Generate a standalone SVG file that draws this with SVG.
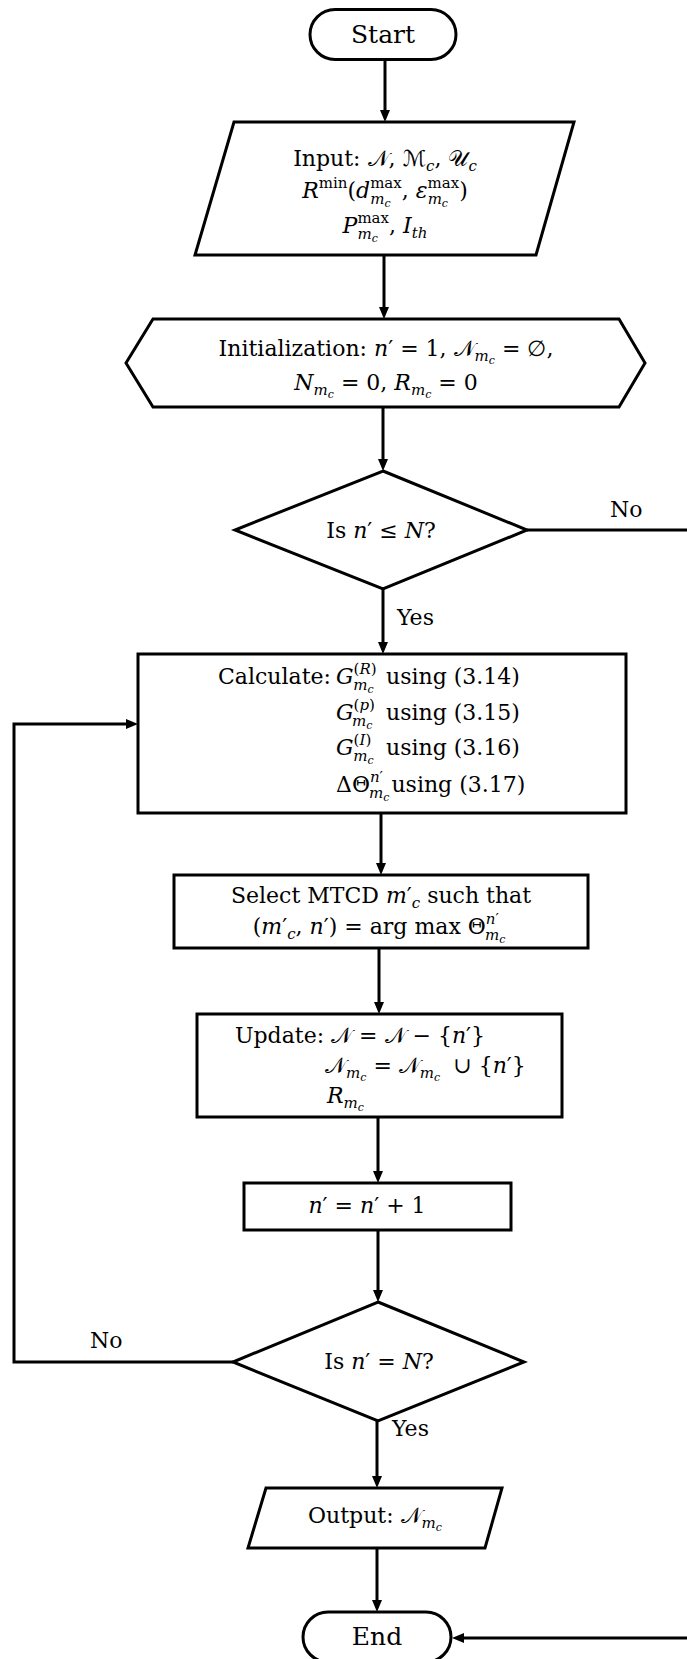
<svg xmlns="http://www.w3.org/2000/svg" width="687" height="1659" viewBox="0 0 687 1659">
<style>
.t{font-family:"DejaVu Serif","Liberation Serif",serif;font-size:22px;fill:#000}
.big{font-size:25px}
.i{font-style:italic}
.sp{font-size:15px}
.ss{font-size:11px}
.sc{font-family:"DejaVu Sans","DejaVu Serif","Noto Sans",serif;font-style:normal}
.shape{fill:#fff;stroke:#000;stroke-width:3;stroke-linejoin:miter}
.conn{fill:none;stroke:#000;stroke-width:3}
</style>
<defs>
<marker id="ah" markerWidth="12" markerHeight="10" refX="4" refY="5" orient="auto" markerUnits="userSpaceOnUse"><path d="M0,0 L12,5 L0,10 z" fill="#000"/></marker>
</defs>
<rect width="687" height="1659" fill="#fff"/>
<g id="connectors">
<path class="conn" d="M385,60 V114" marker-end="url(#ah)"/>
<path class="conn" d="M384,255 V311" marker-end="url(#ah)"/>
<path class="conn" d="M383,407 V463" marker-end="url(#ah)"/>
<path class="conn" d="M527,530 H692 V1638 H460" marker-end="url(#ah)"/>
<path class="conn" d="M383,589 V646" marker-end="url(#ah)"/>
<path class="conn" d="M381,813 V867" marker-end="url(#ah)"/>
<path class="conn" d="M379,948 V1006" marker-end="url(#ah)"/>
<path class="conn" d="M378,1117 V1175" marker-end="url(#ah)"/>
<path class="conn" d="M378,1230 V1294" marker-end="url(#ah)"/>
<path class="conn" d="M233,1362 H14 V724 H130" marker-end="url(#ah)"/>
<path class="conn" d="M377,1421 V1480" marker-end="url(#ah)"/>
<path class="conn" d="M377,1548 V1604" marker-end="url(#ah)"/>
</g>
<g id="start">
<rect class="shape" x="310" y="9.5" width="146" height="50" rx="25" ry="25"/>
<text class="t big" x="383" y="43" text-anchor="middle">Start</text>
</g>
<g id="input">
<polygon class="shape" points="234,122 574,122 536,255 195,255"/>
<text class="t" x="385" y="166" text-anchor="middle">Input: <tspan class="sc">𝒩</tspan>, <tspan class="sc">ℳ</tspan><tspan class="sp i" dy="5">c</tspan><tspan dy="-5">, </tspan><tspan class="sc">𝒰</tspan><tspan class="sp i" dy="5">c</tspan></text>
<text class="t" x="385" y="198" text-anchor="middle"><tspan class="i">R</tspan><tspan class="sp" dy="-10">min</tspan><tspan dy="10">(</tspan><tspan class="i">d</tspan><tspan class="sp" dy="-10">max</tspan><tspan class="sp i" dx="-31.6" dy="16">m</tspan><tspan class="ss i" dy="3">c</tspan><tspan dx="11.2" dy="-9">, </tspan><tspan class="i">ε</tspan><tspan class="sp" dy="-10">max</tspan><tspan class="sp i" dx="-31.6" dy="16">m</tspan><tspan class="ss i" dy="3">c</tspan><tspan dx="11.2" dy="-9">)</tspan></text>
<text class="t" x="385" y="233" text-anchor="middle"><tspan class="i">P</tspan><tspan class="sp" dy="-10">max</tspan><tspan class="sp i" dx="-31.6" dy="16">m</tspan><tspan class="ss i" dy="3">c</tspan><tspan dx="11.2" dy="-9">, </tspan><tspan class="i">I</tspan><tspan class="sp i" dy="5">th</tspan></text>
</g>
<g id="init">
<polygon class="shape" points="126,363 153,319 619,319 645,363 619,407 153,407"/>
<text class="t" x="386" y="356" text-anchor="middle">Initialization: <tspan class="i">n</tspan>′ = 1, <tspan class="sc">𝒩</tspan><tspan class="sp i" dy="5">m</tspan><tspan class="ss i" dy="3">c</tspan><tspan dy="-8"> =  ∅,</tspan></text>
<text class="t" x="386" y="390" text-anchor="middle"><tspan class="i">N</tspan><tspan class="sp i" dy="5">m</tspan><tspan class="ss i" dy="3">c</tspan><tspan dy="-8"> = 0, </tspan><tspan class="i">R</tspan><tspan class="sp i" dy="5">m</tspan><tspan class="ss i" dy="3">c</tspan><tspan dy="-8"> = 0</tspan></text>
</g>
<g id="decision1">
<polygon class="shape" points="383,471 527,530 383,589 235,530"/>
<text class="t" x="381" y="538" text-anchor="middle">Is <tspan class="i">n</tspan>′ ≤ <tspan class="i">N</tspan>?</text>
<text class="t" x="610" y="517">No</text>
<text class="t" x="397" y="625">Yes</text>
</g>
<g id="calculate">
<rect class="shape" x="138" y="654" width="488" height="159"/>
<text class="t" x="218" y="684">Calculate: <tspan x="336" class="i">G</tspan><tspan class="sp" dy="-10">(</tspan><tspan class="sp i">R</tspan><tspan class="sp">)</tspan><tspan class="sp i" dx="-23.3" dy="16">m</tspan><tspan class="ss i" dy="3">c</tspan><tspan x="386" dy="-9">using (3.14)</tspan></text>
<text class="t" x="336" y="720"><tspan class="i">G</tspan><tspan class="sp" dy="-10">(</tspan><tspan class="sp i">p</tspan><tspan class="sp">)</tspan><tspan class="sp i" dx="-23" dy="16">m</tspan><tspan class="ss i" dy="3">c</tspan><tspan x="386" dy="-9">using (3.15)</tspan></text>
<text class="t" x="336" y="755"><tspan class="i">G</tspan><tspan class="sp" dy="-10">(</tspan><tspan class="sp i">I</tspan><tspan class="sp">)</tspan><tspan class="sp i" dx="-18" dy="16">m</tspan><tspan class="ss i" dy="3">c</tspan><tspan x="386" dy="-9">using (3.16)</tspan></text>
<text class="t" x="336" y="792">ΔΘ<tspan class="sp i" dy="-10">n</tspan><tspan class="sp">′</tspan><tspan class="sp i" dx="-14" dy="16">m</tspan><tspan class="ss i" dy="3">c</tspan><tspan dx="2" dy="-9">using (3.17)</tspan></text>
</g>
<g id="select">
<rect class="shape" x="174" y="875" width="414" height="73"/>
<text class="t" x="381" y="903" text-anchor="middle">Select MTCD <tspan class="i">m</tspan>′<tspan class="sp i" dy="5">c</tspan><tspan dy="-5"> such that</tspan></text>
<text class="t" x="379" y="934" text-anchor="middle">(<tspan class="i">m</tspan>′<tspan class="sp i" dy="5">c</tspan><tspan dy="-5">, </tspan><tspan class="i">n</tspan>′) = arg max Θ<tspan class="sp i" dy="-10">n</tspan><tspan class="sp">′</tspan><tspan class="sp i" dx="-14" dy="16">m</tspan><tspan class="ss i" dy="3">c</tspan></text>
</g>
<g id="update">
<rect class="shape" x="197" y="1014" width="365" height="103"/>
<text class="t" x="235" y="1043">Update: <tspan class="sc">𝒩</tspan> = <tspan class="sc">𝒩</tspan> − {<tspan class="i">n</tspan>′}</text>
<text class="t" x="325" y="1073"><tspan class="sc">𝒩</tspan><tspan class="sp i" dy="5">m</tspan><tspan class="ss i" dy="3">c</tspan><tspan dy="-8"> = </tspan><tspan class="sc">𝒩</tspan><tspan class="sp i" dy="5">m</tspan><tspan class="ss i" dy="3">c</tspan><tspan dy="-8" dx="6"> ∪ {</tspan><tspan class="i">n</tspan>′}</text>
<text class="t" x="327" y="1103"><tspan class="i">R</tspan><tspan class="sp i" dy="5">m</tspan><tspan class="ss i" dy="3">c</tspan></text>
</g>
<g id="increment">
<rect class="shape" x="244" y="1183" width="267" height="47"/>
<text class="t" x="367" y="1213" text-anchor="middle"><tspan class="i">n</tspan>′ = <tspan class="i">n</tspan>′ + 1</text>
</g>
<g id="decision2">
<polygon class="shape" points="378,1302 524,1362 378,1421 233,1362"/>
<text class="t" x="379" y="1369" text-anchor="middle">Is <tspan class="i">n</tspan>′ = <tspan class="i">N</tspan>?</text>
<text class="t" x="90" y="1348">No</text>
<text class="t" x="392" y="1436">Yes</text>
</g>
<g id="output">
<polygon class="shape" points="266,1488 502,1488 485,1548 248,1548"/>
<text class="t" x="375" y="1523" text-anchor="middle">Output: <tspan class="sc">𝒩</tspan><tspan class="sp i" dy="5">m</tspan><tspan class="ss i" dy="3">c</tspan></text>
</g>
<g id="end">
<rect class="shape" x="303" y="1612" width="148" height="50" rx="25" ry="25"/>
<text class="t big" x="377" y="1645" text-anchor="middle">End</text>
</g>
</svg>
